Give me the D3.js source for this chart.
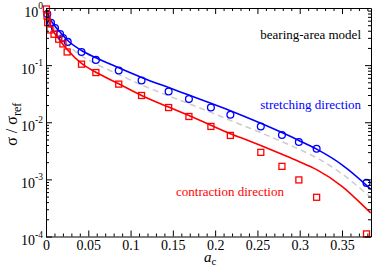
<!DOCTYPE html>
<html>
<head>
<meta charset="utf-8">
<script src="https://cdn.jsdelivr.net/npm/d3@7"></script>
<style>
body { margin: 0; background: #fff; }
text { font-family: "Liberation Serif", "Times New Roman", serif; }
</style>
</head>
<body>
<div id="chart"></div>
<script>
const width = 374
const height = 268
const margin = {top: 8, bottom: 31.5, left: 46, right: 3}

// symbols: stretching direction (blue circles)
const acStretch = [0.0015, 0.0059, 0.0106, 0.0166, 0.0201, 0.0257, 0.042, 0.059, 0.086, 0.113, 0.145, 0.169, 0.195, 0.218, 0.254, 0.279, 0.299, 0.32, 0.379]
const sigStretch = [0.785, 0.553, 0.447, 0.351, 0.299, 0.255, 0.170, 0.1235, 0.0803, 0.0537, 0.0345, 0.0254, 0.0181, 0.0135, 0.00845, 0.00597, 0.00451, 0.00344, 0.000867]

// symbols: contraction direction (red squares)
const acContract = [0.0005, 0.0012, 0.002, 0.0047, 0.0095, 0.015, 0.02, 0.025, 0.042, 0.059, 0.086, 0.113, 0.145, 0.169, 0.195, 0.218, 0.254, 0.279, 0.299, 0.32, 0.379]
const sigContract = [0.961, 0.725, 0.5535, 0.413, 0.347, 0.284, 0.235, 0.170, 0.104, 0.0741, 0.0465, 0.0294, 0.0181, 0.01262, 0.00845, 0.00588, 0.00297, 0.00169, 0.000978, 0.000486, 0.000111]

// model curves (bearing-area model)
const acModel = [0, 0.002, 0.005, 0.01, 0.016, 0.025, 0.042, 0.059, 0.086, 0.113, 0.145, 0.169, 0.195, 0.218, 0.242, 0.254, 0.279, 0.299, 0.32, 0.35, 0.379, 0.384]
const modelStretch = [1, 0.801, 0.642, 0.494, 0.388, 0.2754, 0.1803, 0.1343, 0.0898, 0.061, 0.0404, 0.0299, 0.02156, 0.01593, 0.0114, 0.00959, 0.00659, 0.00481, 0.00338, 0.0018, 0.000784, 0.000667]
const modelMean = [1, 0.754, 0.569, 0.429, 0.330, 0.2344, 0.1445, 0.105, 0.0685, 0.0449, 0.029, 0.0211, 0.01488, 0.01077, 0.00777, 0.00656, 0.00457, 0.00338, 0.00239, 0.00125, 0.000564, 0.000491]
const modelContract = [1, 0.696, 0.504, 0.365, 0.2754, 0.1877, 0.1068, 0.0749, 0.0471, 0.0295, 0.01841, 0.01307, 0.00888, 0.0063, 0.0046, 0.0039, 0.00275, 0.00206, 0.00148, 0.000756, 0.000304, 0.000258]

const xTicks = [0, 0.05, 0.1, 0.15, 0.2, 0.25, 0.3, 0.35]
const yExponents = [0, -1, -2, -3, -4]

const svg = d3.select("#chart").append("svg").attr("width", width).attr("height", height)

const x = d3.scaleLinear().domain([0, 0.3843]).range([margin.left, width - margin.right])
const y = d3.scaleLog().domain([1e-4, 1]).range([height - margin.bottom, margin.top])

const blue = "#0000ff"
const red = "#ff0000"

// clip to frame
svg.append("clipPath").attr("id", "clip").append("rect")
    .attr("x", margin.left).attr("y", margin.top)
    .attr("width", width - margin.left - margin.right)
    .attr("height", height - margin.top - margin.bottom)

const line = (xs, ys) => d3.line().x((d, i) => x(xs[i])).y(d => y(d)).curve(d3.curveMonotoneX)(ys)

const plot = svg.append("g").attr("clip-path", "url(#clip)")

plot.append("path").attr("d", line(acModel, modelMean))
    .attr("fill", "none").attr("stroke", "#cccccc").attr("stroke-width", 1.5).attr("stroke-dasharray", "6,4")
plot.append("path").attr("d", line(acModel, modelStretch))
    .attr("fill", "none").attr("stroke", blue).attr("stroke-width", 1.6)
plot.append("path").attr("d", line(acModel, modelContract))
    .attr("fill", "none").attr("stroke", red).attr("stroke-width", 1.6)

svg.append("g").selectAll("circle").data(sigStretch).enter()
    .append("circle")
    .attr("cx", (d, i) => x(acStretch[i]))
    .attr("cy", d => y(d))
    .attr("r", 3.4)
    .attr("fill", "none").attr("stroke", blue).attr("stroke-width", 1.3)

svg.append("g").selectAll("rect").data(sigContract).enter()
    .append("rect")
    .attr("x", (d, i) => x(acContract[i]) - 3)
    .attr("y", d => y(d) - 3)
    .attr("width", 6).attr("height", 6)
    .attr("fill", "none").attr("stroke", red).attr("stroke-width", 1.3)

// axes
const axisStyle = g => {
    g.select(".domain").attr("stroke", "#000").attr("stroke-width", 1)
    g.selectAll(".tick line").attr("stroke", "#000")
}

const xMinor = d3.range(0, 0.385, 0.01).filter(v => Math.abs(v * 20 - Math.round(v * 20)) > 1e-6)
const yMinor = []
yExponents.slice(1).forEach(e => { for (let k = 2; k <= 9; k++) yMinor.push(k * Math.pow(10, e)) })

const bottomAxis = svg.append("g").attr("transform", `translate(0, ${height - margin.bottom})`)
bottomAxis.call(d3.axisBottom(x).tickValues(xTicks).tickSizeInner(-6).tickSizeOuter(0).tickPadding(4).tickFormat(d => d === 0 ? "0" : d3.format("")(d)))
bottomAxis.append("g").call(d3.axisBottom(x).tickValues(xMinor).tickSize(-3).tickFormat("")).select(".domain").remove()
bottomAxis.call(axisStyle)
bottomAxis.selectAll("text").attr("fill", "#000").attr("font-size", 14).attr("font-family", "Liberation Serif, serif")

const topAxis = svg.append("g").attr("transform", `translate(0, ${margin.top})`)
topAxis.call(d3.axisTop(x).tickValues(xTicks).tickSizeInner(-6).tickSizeOuter(0).tickFormat(""))
topAxis.append("g").call(d3.axisTop(x).tickValues(xMinor).tickSize(-3).tickFormat("")).select(".domain").remove()
topAxis.call(axisStyle)

const leftAxis = svg.append("g").attr("transform", `translate(${margin.left}, 0)`)
leftAxis.call(d3.axisLeft(y).tickValues(yExponents.map(e => Math.pow(10, e))).tickSizeInner(-6).tickSizeOuter(0).tickFormat(""))
leftAxis.append("g").call(d3.axisLeft(y).tickValues(yMinor).tickSize(-3).tickFormat("")).select(".domain").remove()
leftAxis.call(axisStyle)

const rightAxis = svg.append("g").attr("transform", `translate(${width - margin.right}, 0)`)
rightAxis.call(d3.axisRight(y).tickValues(yExponents.map(e => Math.pow(10, e))).tickSizeInner(-6).tickSizeOuter(0).tickFormat(""))
rightAxis.append("g").call(d3.axisRight(y).tickValues(yMinor).tickSize(-3).tickFormat("")).select(".domain").remove()
rightAxis.call(axisStyle)

// y tick labels 10^n
const yLab = svg.append("g").attr("font-size", 14).attr("fill", "#000")
yExponents.forEach(e => {
    const t = yLab.append("text")
        .attr("x", margin.left - 3)
        .attr("y", y(Math.pow(10, e)) + 8.5)
        .attr("text-anchor", "end")
    t.append("tspan").text("10")
    t.append("tspan").attr("dy", -7.5).attr("font-size", 9.5).text(e)
})

// axis titles
const yTitle = svg.append("text")
    .attr("transform", `translate(17, ${(margin.top + height - margin.bottom) / 2 + 2}) rotate(-90)`)
    .attr("text-anchor", "middle").attr("font-size", 16).attr("fill", "#000")
yTitle.append("tspan").text("σ / σ")
yTitle.append("tspan").attr("dy", 4).attr("font-size", 12).text("ref")

const xTitle = svg.append("text")
    .attr("x", 204).attr("y", 262).attr("font-size", 15).attr("fill", "#000")
xTitle.append("tspan").attr("font-style", "italic").text("a")
xTitle.append("tspan").attr("dy", 3).attr("font-size", 11).text("c")

// annotations
svg.append("text").attr("x", 361).attr("y", 39).attr("text-anchor", "end")
    .attr("font-size", 13).attr("fill", "#000").text("bearing-area model")
svg.append("text").attr("x", 361).attr("y", 109).attr("text-anchor", "end")
    .attr("font-size", 13).attr("fill", blue).text("stretching direction")
svg.append("text").attr("x", 176).attr("y", 196)
    .attr("font-size", 13).attr("fill", red).text("contraction direction")
</script>
</body>
</html>
